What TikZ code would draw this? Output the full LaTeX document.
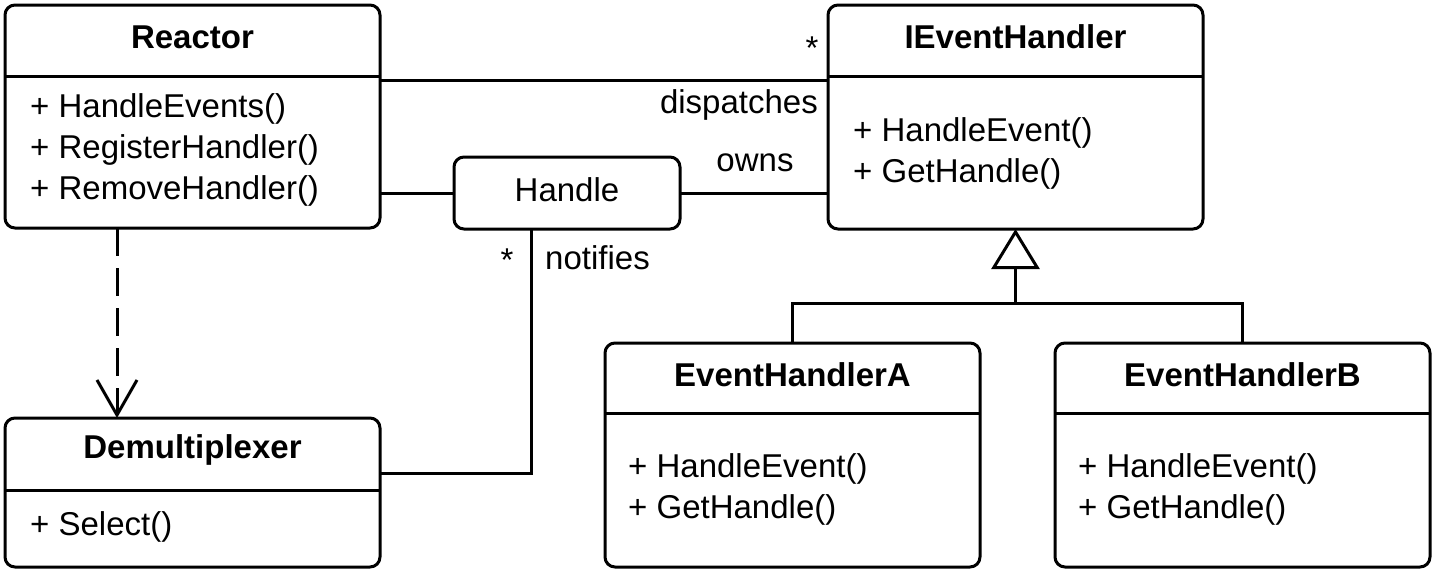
\documentclass[tikz,border=0pt]{standalone}
\usepackage{fontspec}
\setmainfont{Liberation Sans}
\usetikzlibrary{arrows.meta}
\begin{document}
\begin{tikzpicture}[x=1pt,y=-1pt,
  every node/.style={font=\fontsize{33}{41}\selectfont, inner sep=0pt},
  box/.style={draw, line width=3pt, rounded corners=10pt, anchor=north west, outer sep=0pt},
  title/.style={font=\fontsize{33}{41}\selectfont\bfseries},
  meth/.style={align=left, anchor=west},
  conn/.style={line width=3pt},
  lbl/.style={}
]
\useasboundingbox (0,0) rectangle (1435,574);
% Reactor
\node[box, minimum width=375pt, minimum height=223pt] (reactor) at (5,5) {};
\draw[conn] (5,76) -- (380,76);
\node[title] (reactort) at (192.5,37) {Reactor};
\node[meth] (reactorm) at (30,150) {+ HandleEvents()\\+ RegisterHandler()\\+ RemoveHandler()};
% Demultiplexer
\node[box, minimum width=375pt, minimum height=149pt] (demux) at (5,418) {};
\draw[conn] (5,490) -- (380,490);
\node[title] (demuxt) at (192.5,450) {Demultiplexer};
\node[meth] (demuxm) at (30,527) {+ Select()};
% Handle
\node[box, minimum width=226pt, minimum height=72pt] (handle) at (454,157) {};
\node (handlet) at (567,190) {Handle};
% IEventHandler
\node[box, minimum width=375pt, minimum height=224pt] (ieh) at (828,5) {};
\draw[conn] (828,76) -- (1203,76);
\node[title] (ieht) at (1015.5,37) {IEventHandler};
\node[meth] (iehm) at (853,153) {+ HandleEvent()\\+ GetHandle()};
% EventHandlerA
\node[box, minimum width=375pt, minimum height=224pt] (eha) at (605,343) {};
\draw[conn] (605,413) -- (980,413);
\node[title] (ehat) at (792.5,375) {EventHandlerA};
\node[meth] (eham) at (628,489) {+ HandleEvent()\\+ GetHandle()};
% EventHandlerB
\node[box, minimum width=375pt, minimum height=224pt] (ehb) at (1055,343) {};
\draw[conn] (1055,413) -- (1430,413);
\node[title] (ehbt) at (1242.5,375) {EventHandlerB};
\node[meth] (ehbm) at (1078,489) {+ HandleEvent()\\+ GetHandle()};
% connectors
\draw[conn] (reactor.east |- 0,80) -- (ieh.west |- 0,80);
\draw[conn] (reactor.east |- 0,193) -- (handle.west |- 0,193);
\draw[conn] (handle.east |- 0,193) -- (ieh.west |- 0,193);
\draw[conn] (handle.south -| 531,0) |- (demux.east |- 0,473);
\draw[conn, dash pattern=on 28pt off 12pt, -{Straight Barb[length=35pt,width=40pt]}] (reactor.south -| 117,0) -- (demux.north -| 117,0);
\coordinate (junc) at (ieh.south |- 0,303);
\draw[conn] (eha.north) |- (junc) -| (ehb.north);
\draw[conn, -{Triangle[open, length=40pt, width=48pt, fill=white]}] (junc) -- (ieh.south);
% labels
\node[anchor=east] (ldisp) at (818,105) {dispatches};
\node (lstar1) at (812,48) {*};
\node (lowns) at (755,163) {owns};
\node[anchor=west] (lnot) at (545,258) {notifies};
\node (lstar2) at (507,260) {*};
\end{tikzpicture}
\end{document}
